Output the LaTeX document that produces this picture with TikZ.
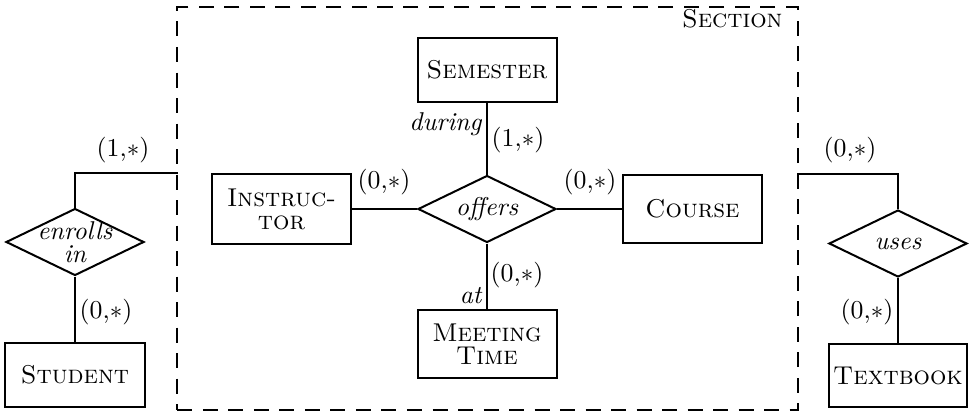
\documentclass[tikz,border=0pt]{standalone}
\usetikzlibrary{shapes.geometric}
\begin{document}
\begin{tikzpicture}[x=0.4pt, y=-0.4pt,
  every node/.style={font=\fontsize{10.3}{9.2}\selectfont},
  line/.style={line width=0.8pt},
  entity/.style={draw, line width=0.8pt, rectangle, inner sep=0pt, align=center,
    minimum width=55.6pt, minimum height=27.2pt},
  relation/.style={draw, line width=0.8pt, diamond, inner sep=-12pt, align=center,
    minimum width=55.2pt, minimum height=26.8pt, font=\fontsize{10.3}{9}\selectfont\itshape},
  card/.style={inner sep=0pt},
  role/.style={inner sep=0pt, anchor=base east, font=\fontsize{10.3}{9.2}\selectfont\itshape},
  aggregate/.style={draw, line width=0.8pt, dash pattern=on 6pt off 4.2pt, rectangle,
    inner sep=0pt, minimum width=248pt, minimum height=161.2pt}
]
\useasboundingbox (0,0) rectangle (969,414);

% aggregate Section
\node[aggregate] (sec) at (487.5,208.5) {};
\node[inner sep=0pt, anchor=base east] (seclabel) at (783,27) {\textsc{Section}};

% entities
\node[entity, minimum height=25.6pt] (semester) at (487,70) {\textsc{Semester}};
\node[entity, minimum height=28pt] (instructor) at (281.5,209) {\textsc{Instruc-}\\\textsc{tor}};
\node[entity] (course) at (692.5,209) {\textsc{Course}};
\node[entity] (meeting) at (487,344) {\textsc{Meeting}\\\textsc{Time}};
\node[entity, minimum height=25.6pt] (student) at (75,375) {\textsc{Student}};
\node[entity, minimum width=55.2pt, minimum height=25.2pt] (textbook) at (898,375.5) {\textsc{Textbook}};

% relationships
\node[relation] (offers) at (487,209) {offers};
\node[relation] (enrolls) at (75,242) {enrolls\\in};
\node[relation] (uses) at (898,243.5) {uses};

% attachment points on the aggregate border
\coordinate (secL) at (178,173);
\coordinate (secR) at (797,174);

% connectors
\draw[line] (offers.north) -- (semester.south);
\draw[line] (offers.south) -- (meeting.north);
\draw[line] (offers.west) -- (instructor.east);
\draw[line] (offers.east) -- (course.west);
\draw[line] (enrolls.north) |- (secL);
\draw[line] (enrolls.south) -- (student.north);
\draw[line] (uses.north) |- (secR);
\draw[line] (uses.south) -- (textbook.north);

% cardinalities
\node[card] (c1) at (123,150) {(1,$\ast$)};
\node[card] (c2) at (106,312) {(0,$\ast$)};
\node[card] (c3) at (850,150) {(0,$\ast$)};
\node[card] (c4) at (867,312) {(0,$\ast$)};
\node[card] (c5) at (384,182) {(0,$\ast$)};
\node[card] (c6) at (590,182) {(0,$\ast$)};
\node[card] (c7) at (518,140) {(1,$\ast$)};
\node[card] (c8) at (517,275) {(0,$\ast$)};

% roles
\node[role] (during) at (482,130) {during};
\node[role] (at) at (482,303) {at};
\end{tikzpicture}
\end{document}
